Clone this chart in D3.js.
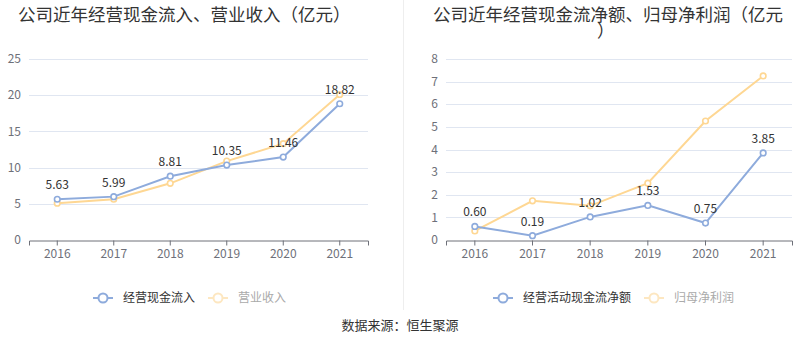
<!DOCTYPE html>
<html>
<head>
<meta charset="utf-8">
<script src="https://cdn.jsdelivr.net/npm/d3@7"></script>
<style>
  body { margin: 0; background: #fff; }
  svg { display: block; font-family: "Noto Sans CJK SC", "DejaVu Sans", sans-serif; }
</style>
</head>
<body>
<div id="chart"></div>
<script>
// 데이터
const years = ['2016', '2017', '2018', '2019', '2020', '2021'];
const cashInflow = [5.63, 5.99, 8.81, 10.35, 11.46, 18.82]; // 经营现金流入
const revenue = [5.08, 5.63, 7.83, 10.9, 13.3, 20.1]; // 营业收入
const cashNet = [0.60, 0.19, 1.02, 1.53, 0.75, 3.85]; // 经营活动现金流净额
const netProfit = [0.40, 1.73, 1.51, 2.51, 5.26, 7.25]; // 归母净利润
const leftTicks = [0, 5, 10, 15, 20, 25];
const rightTicks = [0, 1, 2, 3, 4, 5, 6, 7, 8];

const W = 800, H = 358;
const blue = '#8eabdc';
const orange = '#fed793';

const svg = d3.select('#chart').append('svg').attr('width', W).attr('height', H);

// 가운데 구분선
svg.append('line')
  .attr('x1', 403.5).attr('x2', 403.5).attr('y1', 0).attr('y2', 310)
  .attr('stroke', '#eeeeee');

// 출처
svg.append('text')
  .attr('x', 400).attr('y', 330)
  .attr('text-anchor', 'middle')
  .style('font-size', '13px')
  .attr('fill', '#333')
  .text('数据来源：恒生聚源');

function drawPanel(opt) {
  const g = svg.append('g');

  // 제목: 하나의 text 안에 줄마다 tspan
  const title = g.append('text')
    .style('font-size', '17.5px')
    .attr('fill', '#333');
  opt.title.forEach((t) => {
    title.append('tspan').attr('x', t.x).attr('y', t.y).text(t.text);
  });

  const x = d3.scaleBand().domain(years).range([opt.left, opt.right]);
  const y = d3.scaleLinear().domain([0, opt.max]).range([240, 59]);

  // grid
  g.append('g')
    .selectAll('line')
    .data(opt.ticks.slice(1))
    .enter()
    .append('line')
    .attr('x1', opt.left).attr('x2', opt.right)
    .attr('y1', (d) => Math.round(y(d)) + 0.5)
    .attr('y2', (d) => Math.round(y(d)) + 0.5)
    .attr('stroke', '#e0e6f1');

  // y축 라벨
  g.append('g')
    .selectAll('text')
    .data(opt.ticks)
    .enter()
    .append('text')
    .attr('x', opt.left - 8)
    .attr('y', (d) => y(d))
    .attr('dy', '0.35em')
    .attr('text-anchor', 'end')
    .style('font-size', '12px')
    .attr('fill', '#6e7079')
    .text((d) => d);

  // x축
  const xAxis = g.append('g')
    .attr('transform', 'translate(0,240.5)')
    .call(d3.axisBottom(x).tickSizeOuter(0).tickSize(5).tickPadding(4));
  xAxis.select('.domain').attr('stroke', '#6e7079');
  xAxis.selectAll('line').attr('stroke', '#6e7079');
  xAxis.selectAll('text')
    .style('font-size', '12px')
    .style('font-family', '"Noto Sans CJK SC", "DejaVu Sans", sans-serif')
    .attr('fill', '#6e7079');

  const cx = (d, i) => x(years[i]) + x.bandwidth() / 2;
  const line = d3.line().x(cx).y((d) => y(d));

  // 시리즈: 뒤쪽(주황) 먼저
  [[opt.s2, orange], [opt.s1, blue]].forEach(([s, c]) => {
    g.append('path')
      .datum(s)
      .attr('d', line)
      .attr('fill', 'none')
      .attr('stroke', c)
      .attr('stroke-width', 2);
    g.append('g')
      .selectAll('circle')
      .data(s)
      .enter()
      .append('circle')
      .attr('cx', cx)
      .attr('cy', (d) => y(d))
      .attr('r', 2.8)
      .attr('fill', '#fff')
      .attr('stroke', c)
      .attr('stroke-width', 1.6);
  });

  // 값 라벨 (파란 시리즈)
  g.append('g')
    .selectAll('text')
    .data(opt.s1)
    .enter()
    .append('text')
    .attr('x', cx)
    .attr('y', (d) => y(d) - 10)
    .attr('text-anchor', 'middle')
    .style('font-size', '12px')
    .attr('fill', '#333')
    .text((d) => d.toFixed(2));

  // 범례
  const lg = g.append('g').attr('transform', `translate(${opt.legendX},298)`);
  const items = [
    { name: opt.n1, color: blue, text: '#333' },
    { name: opt.n2, color: '#fde7c1', text: '#aaa' },
  ];
  let off = 0;
  items.forEach((it) => {
    const item = lg.append('g').attr('transform', `translate(${off},0)`);
    item.append('line').attr('x1', 0).attr('x2', 20).attr('y1', 0).attr('y2', 0)
      .attr('stroke', it.color).attr('stroke-width', 2);
    item.append('circle').attr('cx', 10).attr('cy', 0).attr('r', 4.5)
      .attr('fill', '#fff').attr('stroke', it.color).attr('stroke-width', 2);
    item.append('text').attr('x', 30).attr('y', 0).attr('dy', '0.35em')
      .style('font-size', '12px').attr('fill', it.text).text(it.name);
    off += 30 + it.name.length * 12 + 13;
  });
}

drawPanel({
  title: [{ text: '公司近年经营现金流入、营业收入（亿元）', x: 18, y: 21 }],
  left: 29, right: 368, max: 25, ticks: leftTicks,
  s1: cashInflow, s2: revenue,
  n1: '经营现金流入', n2: '营业收入', legendX: 93,
});

drawPanel({
  title: [
    { text: '公司近年经营现金流净额、归母净利润（亿元', x: 433, y: 21 },
    { text: '）', x: 597, y: 37 },
  ],
  left: 446, right: 792, max: 8, ticks: rightTicks,
  s1: cashNet, s2: netProfit,
  n1: '经营活动现金流净额', n2: '归母净利润', legendX: 493,
});
</script>
</body>
</html>
